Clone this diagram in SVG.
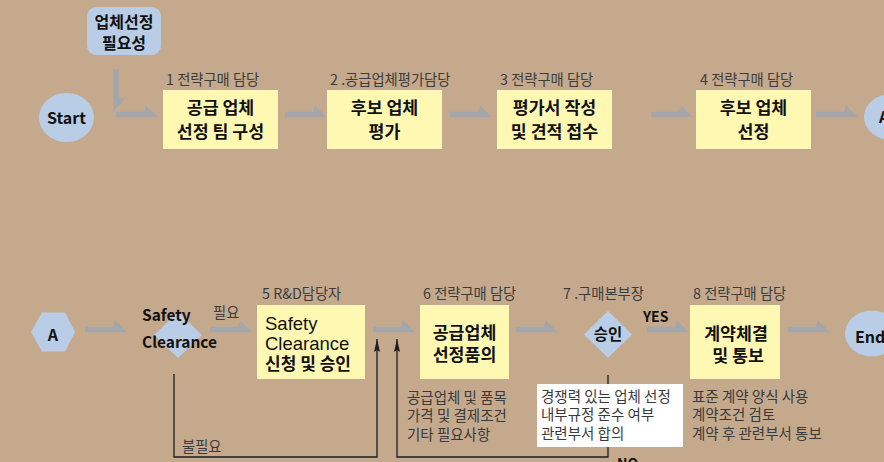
<svg xmlns="http://www.w3.org/2000/svg" xmlns:xlink="http://www.w3.org/1999/xlink" width="884" height="462" viewBox="0 0 884 462">
<style>
.bg{fill:#c4a98d}
.box{fill:#fff8b3}
.blue{fill:#b9cde6}
.arr{fill:#a3a6ab}
.ln{fill:none;stroke:#1e1e1e;stroke-width:1.3}
.t{font-family:"Noto Sans CJK KR","Noto Sans",sans-serif;fill:#111}
.b{font-weight:700}
.c{text-anchor:middle}
.lbl{font-family:"Noto Sans CJK KR","Noto Sans",sans-serif;font-size:14.3px;fill:#3c3c3c}
.note{font-family:"Noto Sans CJK KR","Noto Sans",sans-serif;font-size:14.5px;fill:#3a3a3a}
.big{font-size:17.3px}
</style>
<defs>
<path id="harp" d="M0,-2.7 H28 L30,-9 L42,2.7 H0 Z"/>
<marker id="up" markerUnits="userSpaceOnUse" markerWidth="8" markerHeight="14" refX="3" refY="0" orient="0" viewBox="0 0 6 14">
<path d="M3,0 L6,13 L3,11 L0,13 Z" fill="#1e1e1e"/>
</marker>
</defs>
<rect class="bg" x="0" y="0" width="884" height="462"/>

<g id="connectors">
<use href="#harp" class="arr" transform="translate(116,69) rotate(90)"/>
<use href="#harp" class="arr" x="116" y="114.5"/>
<use href="#harp" class="arr" x="285" y="114.5"/>
<use href="#harp" class="arr" x="450" y="114.5"/>
<use href="#harp" class="arr" x="651" y="114.5"/>
<use href="#harp" class="arr" x="816" y="114.5"/>
<use href="#harp" class="arr" x="85" y="329.5"/>
<use href="#harp" class="arr" x="210" y="329.5"/>
<use href="#harp" class="arr" x="373" y="329.5"/>
<use href="#harp" class="arr" x="516" y="329.5"/>
<use href="#harp" class="arr" x="647" y="329.5"/>
<use href="#harp" class="arr" x="788" y="329.5"/>
<path class="ln" d="M174,374 V457 H377 V339" marker-end="url(#up)"/>
<path class="ln" d="M608,375 V457 H397 V339" marker-end="url(#up)"/>
<text class="lbl" x="213" y="318">필요</text>
<text class="lbl" x="182" y="452">불필요</text>
<text class="t b" x="643" y="322" font-size="14">YES</text>
<text class="t b" x="617" y="469" font-size="14">NO</text>
</g>

<g id="need">
<rect class="blue" x="87" y="7" width="74" height="48" rx="9"/>
<text class="t b c" x="124" y="28" font-size="16">업체선정</text>
<text class="t b c" x="124" y="49" font-size="16">필요성</text>
</g>

<g id="start">
<ellipse class="blue" cx="66.5" cy="117.5" rx="27.5" ry="24.5"/>
<text class="t b c" x="66.5" y="123.5" font-size="16">Start</text>
</g>

<g id="step1">
<text class="lbl" x="166" y="85">1 전략구매 담당</text>
<rect class="box" x="163" y="90" width="115" height="59"/>
<text class="t b c big" x="220.5" y="114">공급 업체</text>
<text class="t b c big" x="220.5" y="138">선정 팀 구성</text>
</g>

<g id="step2">
<text class="lbl" x="330" y="85">2 .공급업체평가담당</text>
<rect class="box" x="327" y="90" width="115" height="59"/>
<text class="t b c big" x="384.5" y="114">후보 업체</text>
<text class="t b c big" x="384.5" y="138">평가</text>
</g>

<g id="step3">
<text class="lbl" x="500" y="85">3 전략구매 담당</text>
<rect class="box" x="497" y="90" width="115" height="59"/>
<text class="t b c big" x="554.5" y="114">평가서 작성</text>
<text class="t b c big" x="554.5" y="138">및 견적 접수</text>
</g>

<g id="step4">
<text class="lbl" x="700" y="85">4 전략구매 담당</text>
<rect class="box" x="696" y="90" width="115" height="59"/>
<text class="t b c big" x="753.5" y="114">후보 업체</text>
<text class="t b c big" x="753.5" y="138">선정</text>
</g>

<g id="connA1">
<ellipse class="blue" cx="891" cy="117" rx="27" ry="23"/>
<text class="t b" x="879" y="123" font-size="16">A</text>
</g>

<g id="connA2">
<polygon class="blue" points="31,332 42,312.5 65,312.5 75,332 65,351.5 42,351.5"/>
<text class="t b c" x="53" y="341" font-size="16">A</text>
</g>

<g id="safety">
<polygon class="blue" points="178,312 202,335 178,358 154,335"/>
<text class="t b" x="142" y="321" font-size="15.5">Safety</text>
<text class="t b" x="142" y="348" font-size="15.5">Clearance</text>
</g>

<g id="step5">
<text class="lbl" x="262" y="299">5 R&amp;D담당자</text>
<rect class="box" x="257" y="305" width="108" height="74"/>
<text x="265" y="330" font-family="Liberation Sans, Arial, sans-serif" font-size="18.5" fill="#111">Safety</text>
<text x="265" y="350" font-family="Liberation Sans, Arial, sans-serif" font-size="18.5" fill="#111">Clearance</text>
<text class="t b" x="265" y="370" font-size="17">신청 및 승인</text>
</g>

<g id="step6">
<text class="lbl" x="423" y="299">6 전략구매 담당</text>
<rect class="box" x="420" y="305" width="89" height="74"/>
<text class="t b c big" x="464.5" y="338.5">공급업체</text>
<text class="t b c big" x="464.5" y="360.5">선정품의</text>
<text class="note" x="407" y="402.5">공급업체 및 품목</text>
<text class="note" x="407" y="421">가격 및 결제조건</text>
<text class="note" x="407" y="439.5">기타 필요사항</text>
</g>

<g id="step7">
<text class="lbl" x="563" y="299">7 .구매본부장</text>
<polygon class="blue" points="608,311 632,334.5 608,358 584,334.5"/>
<text class="t b c" x="608" y="340" font-size="15.5">승인</text>
<rect x="537" y="384" width="146" height="63" fill="#fff"/>
<text class="note" x="541" y="401.5">경쟁력 있는 업체 선정</text>
<text class="note" x="541" y="420">내부규정 준수 여부</text>
<text class="note" x="541" y="438.5">관련부서 합의</text>
</g>

<g id="step8">
<text class="lbl" x="693" y="299">8 전략구매 담당</text>
<rect class="box" x="690" y="305" width="90" height="74"/>
<text class="t b c big" x="736" y="340">계약체결</text>
<text class="t b c big" x="738" y="361.5">및 통보</text>
<text class="note" x="692" y="401.5">표준 계약 양식 사용</text>
<text class="note" x="692" y="420">계약조건 검토</text>
<text class="note" x="692" y="438.5">계약 후 관련부서 통보</text>
</g>

<g id="end">
<ellipse class="blue" cx="872" cy="333.5" rx="27" ry="23"/>
<text class="t b" x="855" y="343" font-size="16">End</text>
</g>
</svg>
